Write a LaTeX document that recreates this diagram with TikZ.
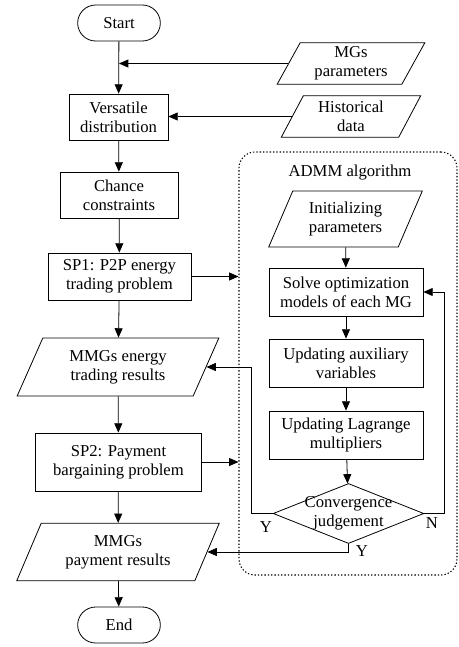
\documentclass[tikz,border=0pt]{standalone}
\usepackage{fontspec}
\setmainfont{Liberation Serif}
\usetikzlibrary{shapes.geometric,arrows.meta,positioning}

\begin{document}
\begin{tikzpicture}[x=0.75pt, y=-0.75pt, font=\fontsize{12.5}{14.5}\selectfont]
\tikzset{
  box/.style={rectangle, draw=black, line width=0.6pt, align=center, inner sep=1pt},
  term/.style={box, rounded corners=13.5pt, minimum width=62pt, minimum height=27pt},
  io/.style={trapezium, trapezium left angle=65, trapezium right angle=115, trapezium stretches=true,
    draw=black, line width=0.6pt, align=center, inner sep=1pt},
  dec/.style={diamond, draw=black, line width=0.6pt, inner sep=0pt},
  arr/.style={-{Triangle[length=7pt,width=6pt]}, line width=0.6pt},
}
\useasboundingbox (0,0) rectangle (458,647);
% ADMM frame
\node[draw, line width=0.8pt, dash pattern=on 1pt off 1.5pt, rounded corners=12pt,
  minimum width=163.5pt, minimum height=317.25pt] (admm) at (348,363.5) {};
\node (admmlab) at (350,173) {ADMM algorithm};
% main chain
\node[term] (start) at (119,23) {Start};
\node[box, minimum width=74.25pt, minimum height=34.5pt] (dist) at (118.5,117) {Versatile\\distribution};
\node[box, minimum width=88.5pt, minimum height=34.5pt] (chance) at (119,195) {Chance\\constraints};
\node[box, minimum width=107.25pt, minimum height=35.25pt] (sp1) at (119.5,276.5) {SP1: P2P energy\\trading problem};
\node[io, minimum width=152pt, minimum height=43.5pt] (res1) at (118,367) {MMGs energy\\trading results};
\node[box, minimum width=124pt, minimum height=43.5pt] (sp2) at (118.5,462) {SP2: Payment\\bargaining problem};
\node[io, minimum width=152pt, minimum height=43pt] (res2) at (118,552) {MMGs\\payment results};
\node[term] (stop) at (119,625) {End};
% inputs
\node[io, minimum width=111pt, minimum height=31pt] (mgp) at (351,63.5) {MGs\\parameters};
\node[io, minimum width=105pt, minimum height=31pt] (hist) at (351,116.5) {Historical\\data};
% ADMM steps
\node[io, minimum width=116pt, minimum height=42pt] (init) at (345.5,219) {Initializing\\parameters};
\node[box, minimum width=115.5pt, minimum height=36pt] (solve) at (346,292) {Solve optimization\\models of each MG};
\node[box, minimum width=115.5pt, minimum height=36pt] (aux) at (346,363) {Updating auxiliary\\variables};
\node[box, minimum width=115.5pt, minimum height=36pt] (mult) at (346,435) {Updating Lagrange\\multipliers};
\node[dec, minimum width=113pt, minimum height=45pt,
  label={[align=center]center:Convergence\\judgement}] (conv) at (348.5,513.5) {};
\node (yl) at (266,527) {Y};
\node (nl) at (432,523) {N};
\node (yb) at (362,551) {Y};

\draw[arr] (start) -- (dist);
\draw[arr] (mgp.west) -- (mgp.west -| start.south);
\draw[arr] (hist.west) -- (hist.west -| dist.east);
\draw[arr] (dist) -- (chance);
\draw[arr] (chance) -- (sp1);
\draw[arr] (sp1) -- (res1);
\draw[arr] (res1) -- (sp2);
\draw[arr] (sp2) -- (res2);
\draw[arr] (res2) -- (stop);
\draw[arr] (sp1.east) -- (sp1.east -| admm.west);
\draw[arr] (sp2.east) -- (sp2.east -| admm.west);
\draw[arr] (init) -- (solve);
\draw[arr] (solve) -- (aux);
\draw[arr] (aux) -- (mult);
\draw[arr] (mult) -- (conv);
\draw[arr] (conv.east) -- ++(20,0) |- (solve.east);
\draw[arr] (conv.west) -- ++(-21,0) |- (res1.east);
\draw[arr] (conv.south) |- (res2.east);
\end{tikzpicture}
\end{document}
